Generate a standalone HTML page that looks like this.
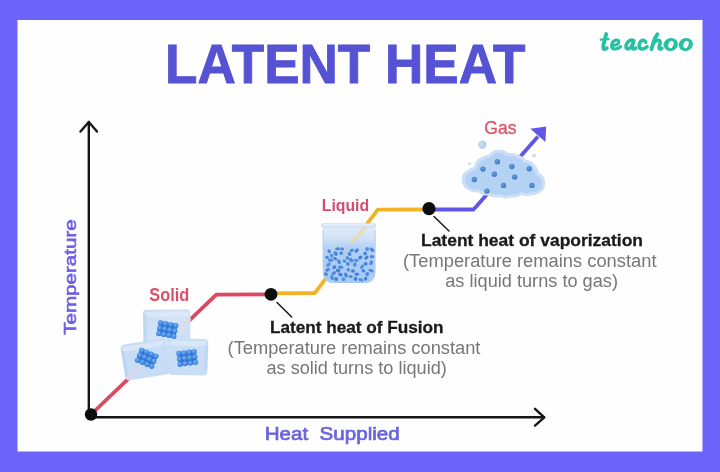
<!DOCTYPE html>
<html>
<head>
<meta charset="utf-8">
<title>Latent Heat</title>
<style>
  html, body { margin: 0; padding: 0; }
  body { width: 720px; height: 472px; overflow: hidden; background: #6c63fb; font-family: "Liberation Sans", sans-serif; }
  svg { display: block; position: absolute; left: 0; top: 0; }
  text { font-family: "Liberation Sans", sans-serif; }
  .b { font-weight: bold; }
  .logo { font-family: "Liberation Serif", serif; font-weight: bold; font-style: italic; }
</style>
</head>
<body>
<svg width="720" height="472" viewBox="0 0 720 472">
  <defs>
    <filter id="soft" x="-5%" y="-5%" width="110%" height="110%"><feGaussianBlur stdDeviation="0.55"/></filter>
    <filter id="soft2" x="-10%" y="-10%" width="120%" height="120%"><feGaussianBlur stdDeviation="0.7"/></filter>
    <filter id="soft3" x="-20%" y="-20%" width="140%" height="140%"><feGaussianBlur stdDeviation="1.2"/></filter>
    <radialGradient id="ball" cx="0.4" cy="0.35" r="0.7">
      <stop offset="0" stop-color="#74b0f2"/>
      <stop offset="0.5" stop-color="#4f96e8"/>
      <stop offset="1" stop-color="#2f74d2"/>
    </radialGradient>
    <radialGradient id="gdot" cx="0.38" cy="0.35" r="0.75">
      <stop offset="0" stop-color="#6a9ddb"/>
      <stop offset="0.6" stop-color="#4a82cc"/>
      <stop offset="1" stop-color="#3b6db6"/>
    </radialGradient>
    <linearGradient id="bk" x1="0" y1="0" x2="0" y2="1">
      <stop offset="0" stop-color="#e0ebf9"/>
      <stop offset="0.22" stop-color="#cfe0f6"/>
      <stop offset="0.36" stop-color="#b4d1f4"/>
      <stop offset="0.6" stop-color="#a9cbf3"/>
      <stop offset="1" stop-color="#a4c8f2"/>
    </linearGradient>
    <linearGradient id="cubeA" x1="0" y1="0" x2="1" y2="1">
      <stop offset="0" stop-color="#c6dcf4"/>
      <stop offset="0.5" stop-color="#d3e4f7"/>
      <stop offset="1" stop-color="#c9def5"/>
    </linearGradient>
  </defs>

  <!-- frame -->
  <rect x="0" y="0" width="720" height="472" fill="#6c63fb"/>
  <rect x="17.5" y="20" width="685" height="431.5" fill="#fefefe"/>

  <g filter="url(#soft)">
  <!-- title -->
  <text x="165" y="83" class="b" font-size="56.2" fill="#5452d3" stroke="#5452d3" stroke-width="0.9" textLength="360.500" lengthAdjust="spacingAndGlyphs">LATENT HEAT</text>

  <!-- logo -->
  <g id="logo" fill="none" stroke="#28c0a3" stroke-width="3.800" stroke-linecap="round" stroke-linejoin="round">
    <path d="M606.200 34 L603.300 45.500 Q602.500 49.400 605 49.100 L606.800 48.300"/>
    <path d="M600.800 39.600 L608.300 39" stroke-width="2.400"/>
    <path d="M612.500 45.600 Q618.600 45 618.800 41.800 Q618.600 39.600 616 40 Q611.800 41.200 611.500 46 Q611.800 49.300 615.500 49.100 Q618.600 48.700 620.600 46.600" stroke-width="3"/>
    <path d="M634 40.600 Q630.800 39.200 628 41.800 Q625.200 45 626.200 47.800 Q627.600 50 630.400 47.800 Q632.600 45.500 633.800 40.800 L632.500 46.500 Q632 49.400 634.200 49 L635.800 48.200" stroke-width="3.500"/>
    <path d="M645.800 42.100 Q644.500 39.600 641.900 40.400 Q639.100 42 639.100 46 Q639.500 49.300 642.500 49.100 Q645.300 48.700 647.100 46.700" stroke-width="3.500"/>
    <path d="M657.400 34.200 Q654.500 38 652.900 44 L651.500 49.200"/>
    <path d="M652.900 44 Q655.600 39.700 658.600 40.200 Q660.700 40.900 659.900 44 L659.100 47.200 Q658.800 49.400 660.800 49 L662 48.300" stroke-width="3.500"/>
  </g>
  <g id="logo-o">
    <ellipse cx="670.700" cy="44.500" rx="7.200" ry="6.500" fill="#28c0a3" transform="rotate(-15 670.700 44.500)"/>
    <ellipse cx="670.900" cy="44.500" rx="2.500" ry="3.700" fill="#fefefe" transform="rotate(22 670.900 44.500)"/>
    <ellipse cx="685.800" cy="44.500" rx="7.200" ry="6.500" fill="#28c0a3" transform="rotate(-15 685.800 44.500)"/>
    <ellipse cx="686" cy="44.500" rx="2.500" ry="3.700" fill="#fefefe" transform="rotate(22 686 44.500)"/>
  </g>

  <!-- curve -->
  <g fill="none" stroke-width="3.800" stroke-linejoin="round" stroke-linecap="butt">
    <polyline points="91,414.500 216.300,294.600 271,294.300" stroke="#dc4862"/>
    <polyline points="271,293.400 314.800,293 377.800,209.700 429,209.500" stroke="#f2b326"/>
    <polyline points="429,209.500 473.600,209.500 538,136.500" stroke="#6256e6"/>
  </g>
  <polygon points="530.3,128.8 546.2,126.6 545.4,142" fill="#6256e6"/>

  <!-- axes -->
  <g fill="none" stroke="#151515" stroke-width="2.4" stroke-linecap="round" stroke-linejoin="round">
    <path d="M88.8 122 V417.3 H544"/>
    <path d="M80.5 131.5 L88.8 122 L97 131.5"/>
    <path d="M535 408.8 L544.3 417.3 L535 425.6"/>
  </g>

  <!-- ice cubes -->
  <g id="cubes">
    <g filter="url(#soft2)">
      <!-- underlay joining the cubes -->
      <path d="M150 338 H188 V368 H150 Z" fill="#cadff5"/>
      <!-- top cube -->
      <path d="M143 313.500 Q143 309.800 147 309.700 L186.500 309.300 Q190.500 309.300 190.500 313.300 L190.300 341 Q190.300 345 186.300 345 L147.500 345.300 Q143.500 345.300 143.500 341.300 Z" fill="url(#cubeA)"/>
      <path d="M145.500 312 L188 311.500 L188 316 Q167 318 145.500 316.500 Z" fill="#dce9f9" opacity="0.8"/>
      <path d="M143.300 313 L146.500 316 L146.800 342 L143.600 343.500 Z" fill="#bcd5f2" opacity="0.8"/>
      <!-- bottom-left cube -->
      <g transform="rotate(-9 145 359)">
        <path d="M122.500 345.500 Q122.500 341.500 126.500 341.500 L163.500 341.500 Q167.500 341.500 167.500 345.500 L167.500 373.500 Q167.500 377.500 163.500 377.500 L126.500 377.500 Q122.500 377.500 122.500 373.500 Z" fill="#c8ddf5"/>
        <path d="M124.500 343.500 L165.500 343.500 L165.500 348 Q145 350 124.500 348 Z" fill="#dae8f9" opacity="0.85"/>
        <path d="M122.800 346 L126 349 L126 372 L122.800 374.500 Z" fill="#b9d3f1" opacity="0.8"/>
      </g>
      <!-- bottom-right cube -->
      <g transform="rotate(2 188 356)">
        <path d="M168.500 343 Q168.500 339 172.500 339 L203.800 338.500 Q207.800 338.500 207.800 342.500 L207.800 371 Q207.800 375 203.800 375 L172.500 375.500 Q168.500 375.500 168.500 371.500 Z" fill="#c9def5"/>
        <path d="M170.500 341 L205.800 340.500 L205.800 345 Q188 347 170.500 345.500 Z" fill="#dce9f9" opacity="0.85"/>
        <path d="M207.600 343 L204.600 346 L204.600 368 L207.600 370.500 Z" fill="#bad4f1" opacity="0.8"/>
      </g>
      <!-- faint trace of the red line through cubes -->
      <path d="M190.500 318.500 L181 327.800" stroke="#efd3df" stroke-width="3.2" opacity="0.6" fill="none"/>
      <path d="M141 366.500 L128.500 378.500" stroke="#efd3df" stroke-width="3.2" opacity="0.5" fill="none"/>
    </g>
    <g filter="url(#soft2)">
      <g transform="translate(167.2 329.5) rotate(10)">
      <rect x="-9.4" y="-7.1" width="18.8" height="14.2" rx="2.5" fill="#3273cf"/>
      <circle cx="-7.8" cy="-5.5" r="2.6" fill="url(#ball)"/>
      <circle cx="-2.6" cy="-5.5" r="2.6" fill="url(#ball)"/>
      <circle cx="2.6" cy="-5.5" r="2.6" fill="url(#ball)"/>
      <circle cx="7.8" cy="-5.5" r="2.6" fill="url(#ball)"/>
      <circle cx="-7.8" cy="0" r="2.6" fill="url(#ball)"/>
      <circle cx="-2.6" cy="0" r="2.6" fill="url(#ball)"/>
      <circle cx="2.6" cy="0" r="2.6" fill="url(#ball)"/>
      <circle cx="7.8" cy="0" r="2.6" fill="url(#ball)"/>
      <circle cx="-7.8" cy="5.5" r="2.6" fill="url(#ball)"/>
      <circle cx="-2.6" cy="5.5" r="2.6" fill="url(#ball)"/>
      <circle cx="2.6" cy="5.5" r="2.6" fill="url(#ball)"/>
      <circle cx="7.8" cy="5.5" r="2.6" fill="url(#ball)"/>
      </g>
      <g transform="translate(146.7 358.2) rotate(23)">
      <rect x="-9.4" y="-7.1" width="18.8" height="14.2" rx="2.5" fill="#3273cf"/>
      <circle cx="-7.8" cy="-5.5" r="2.6" fill="url(#ball)"/>
      <circle cx="-2.6" cy="-5.5" r="2.6" fill="url(#ball)"/>
      <circle cx="2.6" cy="-5.5" r="2.6" fill="url(#ball)"/>
      <circle cx="7.8" cy="-5.5" r="2.6" fill="url(#ball)"/>
      <circle cx="-7.8" cy="0" r="2.6" fill="url(#ball)"/>
      <circle cx="-2.6" cy="0" r="2.6" fill="url(#ball)"/>
      <circle cx="2.6" cy="0" r="2.6" fill="url(#ball)"/>
      <circle cx="7.8" cy="0" r="2.6" fill="url(#ball)"/>
      <circle cx="-7.8" cy="5.5" r="2.6" fill="url(#ball)"/>
      <circle cx="-2.6" cy="5.5" r="2.6" fill="url(#ball)"/>
      <circle cx="2.6" cy="5.5" r="2.6" fill="url(#ball)"/>
      <circle cx="7.8" cy="5.5" r="2.6" fill="url(#ball)"/>
      </g>
      <g transform="translate(187.1 357.9) rotate(-7)">
      <rect x="-9.4" y="-7.1" width="18.8" height="14.2" rx="2.5" fill="#3273cf"/>
      <circle cx="-7.8" cy="-5.5" r="2.6" fill="url(#ball)"/>
      <circle cx="-2.6" cy="-5.5" r="2.6" fill="url(#ball)"/>
      <circle cx="2.6" cy="-5.5" r="2.6" fill="url(#ball)"/>
      <circle cx="7.8" cy="-5.5" r="2.6" fill="url(#ball)"/>
      <circle cx="-7.8" cy="0" r="2.6" fill="url(#ball)"/>
      <circle cx="-2.6" cy="0" r="2.6" fill="url(#ball)"/>
      <circle cx="2.6" cy="0" r="2.6" fill="url(#ball)"/>
      <circle cx="7.8" cy="0" r="2.6" fill="url(#ball)"/>
      <circle cx="-7.8" cy="5.5" r="2.6" fill="url(#ball)"/>
      <circle cx="-2.6" cy="5.5" r="2.6" fill="url(#ball)"/>
      <circle cx="2.6" cy="5.5" r="2.6" fill="url(#ball)"/>
      <circle cx="7.8" cy="5.5" r="2.6" fill="url(#ball)"/>
      </g>
    </g>
  </g>

  <!-- beaker -->
  <g id="beaker">
    <g filter="url(#soft2)">
      <path d="M322.700 226 L323 273 Q323.500 282.800 333.500 283 L364.500 283 Q374.800 282.800 375.200 273 L375.500 226 Z" fill="url(#bk)" opacity="0.97"/>
      <path d="M366.500 226.500 L352 241" stroke="#e9d9a0" stroke-width="3.4" opacity="0.75" fill="none" stroke-linecap="round"/>
      <path d="M323 230 L323.300 273 Q323.800 282.500 333.500 282.700" stroke="#b3cff0" stroke-width="1.1" fill="none" opacity="0.8"/>
      <path d="M375.300 230 L375 273 Q374.600 282.500 364.500 282.700" stroke="#b3cff0" stroke-width="1.1" fill="none" opacity="0.8"/>
      <rect x="321" y="223.300" width="55.200" height="4.300" rx="2.100" fill="#cfe0f5"/>
      <rect x="323" y="224.300" width="51.200" height="1.500" rx="0.700" fill="#e8f1fb"/>
    </g>
    <g filter="url(#soft)">
      <ellipse cx="341.15" cy="253.17" rx="1.83" ry="1.78" fill="#4b88de" transform="rotate(-60 341.15 253.17)"/>
      <ellipse cx="356.65" cy="250.64" rx="2.67" ry="1.7" fill="#4b88de" transform="rotate(-40 356.65 250.64)"/>
      <ellipse cx="351.2" cy="260.11" rx="2.64" ry="1.87" fill="#4b88de" transform="rotate(40 351.2 260.11)"/>
      <ellipse cx="328.55" cy="264.69" rx="2.68" ry="1.6" fill="#5590e2" transform="rotate(-40 328.55 264.69)"/>
      <ellipse cx="329.11" cy="251.23" rx="1.94" ry="1.71" fill="#4b88de" transform="rotate(60 329.11 251.23)"/>
      <ellipse cx="345.92" cy="275.01" rx="2.65" ry="1.79" fill="#4b88de" transform="rotate(60 345.92 275.01)"/>
      <ellipse cx="331.67" cy="255.51" rx="1.88" ry="1.81" fill="#5590e2" transform="rotate(-40 331.67 255.51)"/>
      <ellipse cx="355.54" cy="278.91" rx="2.01" ry="1.87" fill="#4380d8" transform="rotate(60 355.54 278.91)"/>
      <ellipse cx="372.07" cy="249.8" rx="2.67" ry="1.75" fill="#4b88de" transform="rotate(40 372.07 249.8)"/>
      <ellipse cx="366.49" cy="257.65" rx="2.43" ry="1.54" fill="#4380d8" transform="rotate(-40 366.49 257.65)"/>
      <ellipse cx="340.42" cy="274.66" rx="2.27" ry="1.73" fill="#4380d8" transform="rotate(20 340.42 274.66)"/>
      <ellipse cx="334.37" cy="267.09" rx="2" ry="1.74" fill="#4380d8" transform="rotate(-40 334.37 267.09)"/>
      <ellipse cx="356.08" cy="260.33" rx="2.7" ry="1.61" fill="#5590e2" transform="rotate(0 356.08 260.33)"/>
      <ellipse cx="351.76" cy="250.33" rx="2.23" ry="1.59" fill="#4b88de" transform="rotate(-30 351.76 250.33)"/>
      <ellipse cx="340.69" cy="267.21" rx="2.66" ry="1.78" fill="#4b88de" transform="rotate(0 340.69 267.21)"/>
      <ellipse cx="347.28" cy="257.98" rx="1.82" ry="1.7" fill="#4b88de" transform="rotate(60 347.28 257.98)"/>
      <ellipse cx="363.45" cy="270.88" rx="1.87" ry="1.59" fill="#4380d8" transform="rotate(20 363.45 270.88)"/>
      <ellipse cx="350.69" cy="276.57" rx="2" ry="1.51" fill="#4b88de" transform="rotate(0 350.69 276.57)"/>
      <ellipse cx="360.38" cy="257.6" rx="2.13" ry="1.66" fill="#4380d8" transform="rotate(-40 360.38 257.6)"/>
      <ellipse cx="327.66" cy="269.88" rx="2.47" ry="1.7" fill="#4b88de" transform="rotate(-30 327.66 269.88)"/>
      <ellipse cx="362.04" cy="266.81" rx="2.67" ry="1.62" fill="#5590e2" transform="rotate(-60 362.04 266.81)"/>
      <ellipse cx="365.61" cy="278.81" rx="2.01" ry="1.59" fill="#4380d8" transform="rotate(-60 365.61 278.81)"/>
      <ellipse cx="348.27" cy="269.75" rx="1.9" ry="1.75" fill="#5590e2" transform="rotate(40 348.27 269.75)"/>
      <ellipse cx="339" cy="261.71" rx="2.61" ry="1.69" fill="#4b88de" transform="rotate(60 339 261.71)"/>
      <ellipse cx="370.98" cy="270.6" rx="2.65" ry="1.56" fill="#4b88de" transform="rotate(20 370.98 270.6)"/>
      <ellipse cx="367.25" cy="274.07" rx="1.99" ry="1.89" fill="#4b88de" transform="rotate(-30 367.25 274.07)"/>
      <ellipse cx="344.4" cy="261.19" rx="1.85" ry="1.52" fill="#4b88de" transform="rotate(20 344.4 261.19)"/>
      <ellipse cx="335.7" cy="253.54" rx="2.61" ry="1.85" fill="#4b88de" transform="rotate(60 335.7 253.54)"/>
      <ellipse cx="330.61" cy="260.04" rx="2.7" ry="1.87" fill="#5590e2" transform="rotate(0 330.61 260.04)"/>
      <ellipse cx="347.89" cy="263.93" rx="1.97" ry="1.87" fill="#4b88de" transform="rotate(60 347.89 263.93)"/>
      <ellipse cx="365.09" cy="253.51" rx="1.83" ry="1.77" fill="#4380d8" transform="rotate(20 365.09 253.51)"/>
      <ellipse cx="333.72" cy="273.23" rx="2.69" ry="1.68" fill="#4b88de" transform="rotate(-40 333.72 273.23)"/>
      <ellipse cx="327.12" cy="257.33" rx="1.87" ry="1.53" fill="#4b88de" transform="rotate(20 327.12 257.33)"/>
      <ellipse cx="338.08" cy="270.67" rx="2.31" ry="1.8" fill="#4380d8" transform="rotate(20 338.08 270.67)"/>
      <ellipse cx="371.14" cy="262.75" rx="2.49" ry="1.62" fill="#4b88de" transform="rotate(-60 371.14 262.75)"/>
      <ellipse cx="365.64" cy="263.79" rx="1.88" ry="1.78" fill="#4380d8" transform="rotate(-30 365.64 263.79)"/>
      <ellipse cx="356.75" cy="274.13" rx="2.29" ry="1.68" fill="#4380d8" transform="rotate(0 356.75 274.13)"/>
      <ellipse cx="332.01" cy="277.69" rx="2.46" ry="1.69" fill="#4b88de" transform="rotate(60 332.01 277.69)"/>
      <ellipse cx="325.99" cy="274.11" rx="2.02" ry="1.75" fill="#4b88de" transform="rotate(20 325.99 274.11)"/>
      <ellipse cx="354.83" cy="264.63" rx="2.14" ry="1.69" fill="#4b88de" transform="rotate(-60 354.83 264.63)"/>
      <ellipse cx="336.21" cy="279.07" rx="2.03" ry="1.8" fill="#4380d8" transform="rotate(40 336.21 279.07)"/>
      <ellipse cx="335.08" cy="258.59" rx="2.13" ry="1.63" fill="#4b88de" transform="rotate(40 335.08 258.59)"/>
      <ellipse cx="352.85" cy="270.92" rx="2.04" ry="1.79" fill="#4380d8" transform="rotate(0 352.85 270.92)"/>
      <ellipse cx="349.5" cy="254.05" rx="2.07" ry="1.79" fill="#4b88de" transform="rotate(40 349.5 254.05)"/>
      <ellipse cx="342.25" cy="248.89" rx="1.82" ry="1.59" fill="#4b88de" transform="rotate(20 342.25 248.89)"/>
      <ellipse cx="337.67" cy="248.8" rx="2.66" ry="1.65" fill="#4b88de" transform="rotate(0 337.67 248.8)"/>
      <ellipse cx="360.87" cy="279.82" rx="2.53" ry="1.55" fill="#5590e2" transform="rotate(20 360.87 279.82)"/>
      <ellipse cx="343.5" cy="279.18" rx="1.81" ry="1.87" fill="#5590e2" transform="rotate(0 343.5 279.18)"/>
      <ellipse cx="372.08" cy="256.7" rx="2.35" ry="1.63" fill="#4b88de" transform="rotate(0 372.08 256.7)"/>
      <ellipse cx="367.18" cy="249" rx="2.13" ry="1.81" fill="#5590e2" transform="rotate(-40 367.18 249)"/>
    </g>
  </g>

  <!-- gas cloud -->
  <g id="cloud">
    <g filter="url(#soft2)">
      <circle cx="482.400" cy="144.700" r="4.200" fill="#b7d0ee"/>
      <circle cx="481.500" cy="143.800" r="2.300" fill="#c6daf2"/>
      <circle cx="534.100" cy="155.800" r="2" fill="#cfdff3"/>
      <circle cx="469.500" cy="163.600" r="1.700" fill="#d3e1f4"/>
      <path id="cl" d="M461.700 179.500 Q461.500 172.500 468 170 Q471 167.200 474.500 166.500 Q474.500 160.500 480 158 Q484 155 488.500 154.800 Q492 150.500 498 149.800 Q504 149.500 508.500 153 Q514 152.500 518.800 155 Q523 156 525.500 159.500 Q531 160 534 164 Q538 167 538.500 172.500 Q544 175 545 181 Q546 188 541.500 191.800 Q537 195.500 530.500 195.500 Q526 197 521.500 194.800 Q518 198 512 197.600 Q505 199.300 499.500 197.300 Q493.500 198.300 489 195.800 Q482.500 196 478 192.300 Q472 193 467.500 189.500 Q462 186.500 461.700 179.500 Z" fill="#ccdff6"/>
      <path d="M464.700 179.500 Q464.500 174.500 470 172.500 Q473 169.500 477.200 169 Q477.500 163 482 160.500 Q485.500 158 490 157.800 Q493.500 153.300 498.500 152.800 Q503.500 152.600 507.500 156 Q513 155.500 517.800 158 Q521.500 159 523.500 162.300 Q529 162.800 531.500 166 Q535 169 535.500 174.500 Q541 177 542 182 Q542.700 187 539.500 189.800 Q536 192.500 530 192.600 Q526 194 521.500 191.800 Q517.500 195 512 194.600 Q505 196.300 499.800 194.300 Q494 195.300 490 192.800 Q484 193 479.500 189.500 Q473.500 190 469.500 187 Q465 184.500 464.700 179.500 Z" fill="#b4d2f4"/>
    </g>
    <g filter="url(#soft)">
      <circle cx="497.300" cy="161.700" r="2.700" fill="url(#gdot)"/>
      <circle cx="482.900" cy="169.100" r="2.700" fill="url(#gdot)"/>
      <circle cx="511.800" cy="166.500" r="2.700" fill="url(#gdot)"/>
      <circle cx="529.200" cy="168.800" r="2.700" fill="url(#gdot)"/>
      <circle cx="494.300" cy="174.300" r="2.700" fill="url(#gdot)"/>
      <circle cx="514.600" cy="177" r="2.700" fill="url(#gdot)"/>
      <circle cx="474.300" cy="179.500" r="2.700" fill="url(#gdot)"/>
      <circle cx="503.500" cy="185.400" r="2.700" fill="url(#gdot)"/>
      <circle cx="531.900" cy="185.400" r="2.700" fill="url(#gdot)"/>
      <circle cx="486.900" cy="191.100" r="2.700" fill="url(#gdot)"/>
    </g>
  </g>

  <!-- dots -->
  <circle cx="91" cy="414.500" r="6.200" fill="#0b0b0b"/>
  <circle cx="271" cy="294.300" r="6.400" fill="#0b0b0b"/>
  <circle cx="429" cy="208.700" r="6.600" fill="#0b0b0b"/>

  <!-- pointers -->
  <g stroke="#1a1a1a" stroke-width="1.5" stroke-linecap="round">
    <line x1="277" y1="302.500" x2="291.700" y2="317"/>
    <line x1="434" y1="216.500" x2="449" y2="231"/>
  </g>

  <!-- labels -->
  <text x="149.300" y="301.200" class="b" font-size="18.6" fill="#db506a" textLength="40" lengthAdjust="spacingAndGlyphs">Solid</text>
  <text x="321.800" y="210.600" class="b" font-size="17.3" fill="#d34f70" textLength="47.300" lengthAdjust="spacingAndGlyphs">Liquid</text>
  <text x="484.300" y="134.400" font-size="17.7" fill="#da566b" stroke="#da566b" stroke-width="0.35" textLength="32.300" lengthAdjust="spacingAndGlyphs">Gas</text>

  <text x="421" y="245.800" class="b" font-size="17" fill="#1a1a1a" stroke="#1a1a1a" stroke-width="0.3" textLength="222" lengthAdjust="spacingAndGlyphs">Latent heat of vaporization</text>
  <text x="403" y="266.700" font-size="18" fill="#777777" textLength="253.500" lengthAdjust="spacingAndGlyphs">(Temperature remains constant</text>
  <text x="445.200" y="286.800" font-size="18" fill="#777777" textLength="172.800" lengthAdjust="spacingAndGlyphs">as liquid turns to gas)</text>

  <text x="270" y="332.500" class="b" font-size="17" fill="#1a1a1a" stroke="#1a1a1a" stroke-width="0.3" textLength="173.500" lengthAdjust="spacingAndGlyphs">Latent heat of Fusion</text>
  <text x="227.600" y="354" font-size="18" fill="#777777" textLength="252.800" lengthAdjust="spacingAndGlyphs">(Temperature remains constant</text>
  <text x="266.500" y="374" font-size="18" fill="#777777" textLength="180.300" lengthAdjust="spacingAndGlyphs">as solid turns to liquid)</text>

  <text x="264.700" y="440" font-size="19.2" fill="#6a63dc" stroke="#6a63dc" stroke-width="0.7" textLength="135" lengthAdjust="spacingAndGlyphs" xml:space="preserve">Heat  Supplied</text>
  <text transform="translate(76.200 334.800) rotate(-90)" font-size="17.1" fill="#6a5fe4" stroke="#6a5fe4" stroke-width="0.6" textLength="115.500" lengthAdjust="spacingAndGlyphs">Temperature</text>
  </g>
</svg>
</body>
</html>
